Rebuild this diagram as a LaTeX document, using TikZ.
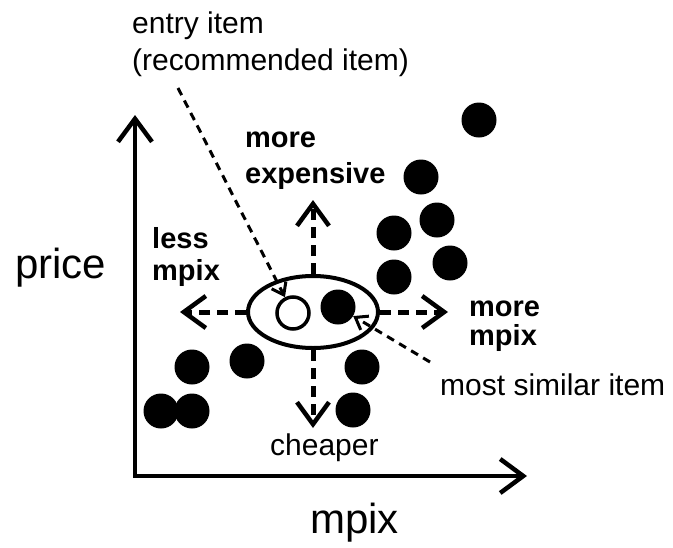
\documentclass[tikz,border=0pt]{standalone}
\usepackage{fontspec}
\setmainfont{Liberation Sans}
\usetikzlibrary{arrows.meta,shapes.geometric}
\begin{document}
\begin{tikzpicture}[x=1pt,y=-1pt,
  dot/.style={circle,fill,inner sep=0pt,minimum size=35pt},
  lbl/.style={anchor=base west,inner sep=0pt,font=\fontsize{30}{36}\selectfont},
  blbl/.style={anchor=base west,inner sep=0pt,font=\fontsize{29}{35}\selectfont\bfseries},
  big/.style={anchor=base west,inner sep=0pt,font=\fontsize{42}{50}\selectfont},
  axis/.style={line width=4.5pt,{Straight Barb[length=23pt,width=34pt,line width=4.5pt]}-{Straight Barb[length=23pt,width=34pt,line width=4.5pt]}},
  dir/.style={line width=5pt,dash pattern=on 11pt off 7pt,-{Straight Barb[length=22pt,width=32pt,line width=4.5pt]}},
  leader/.style={line width=3pt,dash pattern=on 8pt off 6pt,-{Straight Barb[length=11pt,width=16pt,line width=3pt]}}]
\useasboundingbox (0,0) rectangle (673,547);
\coordinate (O) at (135,476);
\coordinate (ytip) at (135,115);
\coordinate (xtip) at (527,476);
\draw[axis] (ytip) -- (O) -- (xtip);
\foreach \px/\py [count=\i] in {479/120,421/177,437/220,394/233,450/263,394/277,
    247/361,192/367,161/411,192/411,362/367,353/410}
  \node[dot] (d\i) at (\px,\py) {};
\node[draw,ellipse,line width=4pt,minimum width=130pt,minimum height=72pt,inner sep=0pt] (sel) at (313,312) {};
\node[circle,draw,line width=3.5pt,minimum size=32pt,inner sep=0pt] (entry) at (293,313) {};
\node[dot] (similar) at (338,307) {};
\coordinate (lesstip) at (180,312);
\coordinate (moretip) at (448,312);
\coordinate (uptip) at (313,200);
\coordinate (downtip) at (313,428);
\draw[dir] (sel.west) -- (lesstip);
\draw[dir] (sel.east) -- (moretip);
\draw[dir] (sel.north) -- (uptip);
\draw[dir] (sel.south) -- (downtip);
\coordinate (entrylead) at (178,88);
\coordinate (simlead) at (430,362);
\draw[leader] (entrylead) -- (entry);
\draw[leader] (simlead) -- (similar);
\node[lbl] (entry1) at (132,33) {entry item};
\node[lbl] (entry2) at (132,70) {(recommended item)};
\node[blbl] (up1) at (245,147) {more};
\node[blbl] (up2) at (245,183) {expensive};
\node[blbl] (left1) at (152,248) {less};
\node[blbl] (left2) at (152,280) {mpix};
\node[blbl] (right1) at (469,316) {more};
\node[blbl] (right2) at (469,345) {mpix};
\node[lbl] (simlbl) at (440,395) {most similar item};
\node[lbl] (down) at (270,455) {cheaper};
\node[big] (ylbl) at (15,278) {price};
\node[big] (xlbl) at (310,533) {mpix};
\end{tikzpicture}
\end{document}
